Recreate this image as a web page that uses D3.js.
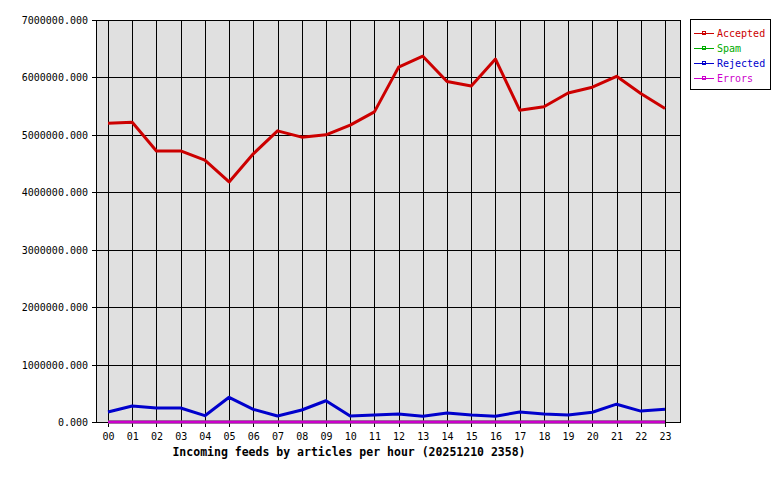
<!DOCTYPE html>
<html><head><meta charset="utf-8">
<script src="https://cdn.jsdelivr.net/npm/d3@7"></script>
<style>body{margin:0;background:#fff}svg{display:block}</style>
</head><body>
<svg id="c" width="780" height="480"></svg>
<script>
const hours = ["00","01","02","03","04","05","06","07","08","09","10","11","12","13","14","15","16","17","18","19","20","21","22","23"];
const accepted = [5200000,5220000,4720000,4720000,4560000,4180000,4670000,5070000,4960000,5000000,5170000,5400000,6180000,6370000,5930000,5850000,6320000,5430000,5490000,5730000,5830000,6020000,5720000,5460000];
const spam = [0,0,0,0,0,0,0,0,0,0,0,0,0,0,0,0,0,0,0,0,0,0,0,0];
const rejected = [174000,279000,244000,244000,110000,430000,220000,104000,209000,370000,104000,120000,140000,100000,157000,120000,100000,174000,140000,120000,170000,310000,190000,220000];
const errors = [0,0,0,0,0,0,0,0,0,0,0,0,0,0,0,0,0,0,0,0,0,0,0,0];
const yTicks = [0,1000000,2000000,3000000,4000000,5000000,6000000,7000000];
const seriesNames = ["Accepted","Spam","Rejected","Errors"];
const seriesColors = ["#cc0000","#00aa00","#0000cc","#cc00cc"];
const title = "Incoming feeds by articles per hour (20251210 2358)";

const series = [accepted, spam, rejected, errors];
const svg = d3.select("#c");
const L = 96, R = 680, T = 20, B = 422;
const x = d3.scaleLinear().domain([0, 23]).range([108, 665]);
const y = d3.scaleLinear().domain([0, 7000000]).range([B, T]);
const mono = "'DejaVu Sans Mono', monospace";

svg.append("rect").attr("x", L).attr("y", T).attr("width", R - L).attr("height", B - T).attr("fill", "#e0e0e0");

// grid
const g = svg.append("g").attr("stroke", "#000").attr("stroke-width", 1).attr("shape-rendering", "crispEdges");
hours.forEach((h, i) => {
  g.append("line").attr("x1", Math.round(x(i)) + 0.5).attr("x2", Math.round(x(i)) + 0.5).attr("y1", T).attr("y2", B + 5);
});
yTicks.forEach(v => {
  g.append("line").attr("x1", L - 4).attr("x2", R).attr("y1", Math.round(y(v)) + 0.5).attr("y2", Math.round(y(v)) + 0.5);
});
g.append("rect").attr("x", L + 0.5).attr("y", T + 0.5).attr("width", R - L).attr("height", B - T).attr("fill", "none");

// axis labels
svg.append("g").selectAll("text").data(yTicks).join("text")
  .attr("x", 88).attr("y", d => y(d) + 4).attr("text-anchor", "end")
  .attr("font-family", mono).attr("font-size", 10).attr("fill", "#000")
  .text(d => d.toFixed(3));
svg.append("g").selectAll("text").data(hours).join("text")
  .attr("x", (d, i) => x(i) + 0.5).attr("y", 440).attr("text-anchor", "middle")
  .attr("font-family", mono).attr("font-size", 10).attr("fill", "#000")
  .text(d => d);
svg.append("text").attr("x", 349).attr("y", 456).attr("text-anchor", "middle")
  .attr("font-family", mono).attr("font-weight", "bold").attr("font-size", 11.5).attr("fill", "#000")
  .text(title);

// lines
const line = d3.line().x((d, i) => x(i)).y(d => y(d));
series.forEach((s, k) => {
  svg.append("path").datum(s).attr("d", line).attr("fill", "none")
    .attr("stroke", seriesColors[k]).attr("stroke-width", 3).attr("stroke-linejoin", "round");
});

// legend
const lg = svg.append("g");
lg.append("rect").attr("x", 690.5).attr("y", 19.5).attr("width", 80).attr("height", 70)
  .attr("fill", "#fff").attr("stroke", "#000").attr("shape-rendering", "crispEdges");
seriesNames.forEach((n, k) => {
  const yy = 33 + k * 15;
  lg.append("line").attr("x1", 694).attr("x2", 714).attr("y1", yy + 0.5).attr("y2", yy + 0.5).attr("stroke", seriesColors[k]).attr("shape-rendering", "crispEdges");
  lg.append("rect").attr("x", 702.5).attr("y", yy - 1.5).attr("width", 3).attr("height", 3).attr("fill", "none").attr("stroke", seriesColors[k]).attr("stroke-width", 1).attr("shape-rendering", "crispEdges");
  lg.append("text").attr("x", 717).attr("y", yy + 4).attr("font-family", mono).attr("font-size", 10)
    .attr("fill", seriesColors[k]).text(n);
});
</script>
</body></html>
